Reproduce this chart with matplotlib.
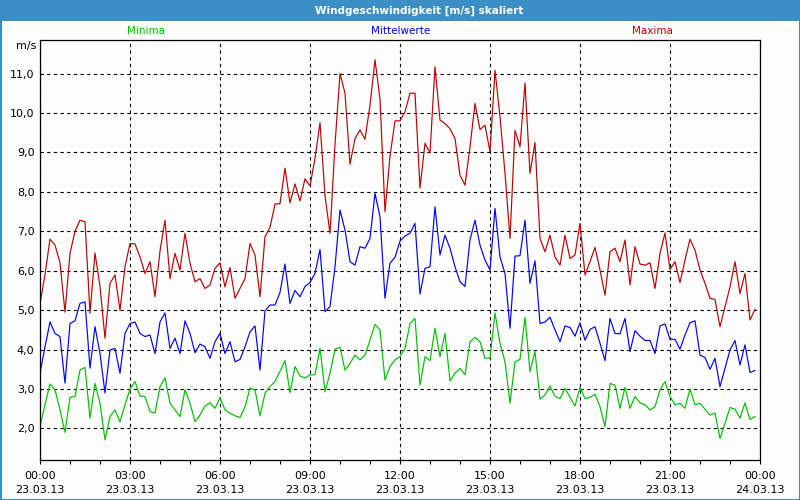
import numpy as np
import matplotlib
matplotlib.use("Agg")
import matplotlib.pyplot as plt
from matplotlib.patches import Rectangle
from matplotlib.ticker import MultipleLocator, FixedLocator, FuncFormatter

plt.rcParams['font.family'] = ['DejaVu Sans']

title = "Windgeschwindigkeit [m/s] skaliert"
series_names = ["Minima", "Mittelwerte", "Maxima"]
unit = "m/s"

# 10-minute values, 23.03.13 00:00 .. 23:50
maxima = [5.17, 5.9, 6.8, 6.65, 6.2, 4.95, 6.44, 7.0, 7.28, 7.24, 4.92, 6.45, 5.6, 4.29, 5.68, 5.89, 5.0, 6.1, 6.69, 6.68, 6.35, 5.93, 6.23, 5.34, 6.5,
          7.28, 5.8, 6.44, 6.02, 6.95, 6.19, 5.72, 5.8, 5.55, 5.64, 6.06, 6.2, 5.59, 6.08, 5.3, 5.55, 5.8, 6.69, 6.4, 5.34, 6.86, 7.1, 7.69, 7.7,
          8.6, 7.72, 8.2, 7.77, 8.33, 8.15, 8.85, 9.75, 7.9, 6.95, 9.2, 11.0, 10.5, 8.7, 9.35, 9.57, 9.33, 10.2, 11.35, 10.35, 7.5, 8.9, 9.8, 9.8,
          10.03, 10.5, 10.5, 8.1, 9.23, 8.99, 11.17, 9.82, 9.73, 9.6, 9.35, 8.42, 8.17, 9.14, 10.24, 9.58, 9.69, 9.02, 11.08, 9.9, 8.47, 6.82, 9.56, 9.14,
          10.76, 8.47, 9.25, 6.82, 6.48, 6.9, 6.35, 6.14, 6.9, 6.31, 6.4, 7.2, 5.89, 6.23, 6.59, 6.02, 5.38, 6.48, 6.57, 6.23, 6.78, 5.64, 6.61, 6.17,
          6.14, 6.2, 5.55, 6.44, 6.96, 6.03, 6.23, 5.7, 6.27, 6.8, 6.52, 6.02, 5.68, 5.3, 5.27, 4.58, 5.09, 5.59, 6.23, 5.42, 5.93, 4.75, 5.02]

mittel = [3.4, 4.07, 4.7, 4.41, 4.33, 3.15, 4.66, 4.73, 5.17, 5.21, 3.53, 4.58, 3.9, 2.9, 3.99, 4.03, 3.4, 4.41, 4.66, 4.7, 4.41, 4.33, 4.37, 3.9, 4.7,
          4.93, 4.03, 4.29, 3.9, 4.73, 4.41, 3.92, 4.14, 4.07, 3.78, 4.2, 4.41, 3.9, 4.2, 3.69, 3.75, 4.07, 4.45, 4.6, 3.48, 4.98, 5.13, 5.13, 5.45,
          6.17, 5.17, 5.5, 5.34, 5.6, 5.7, 5.93, 6.54, 4.96, 5.09, 6.1, 7.54, 7.03, 6.23, 6.14, 6.61, 6.57, 6.82, 7.96, 7.37, 5.3, 6.19, 6.34, 6.75,
          6.88, 6.95, 7.2, 5.41, 6.06, 6.1, 7.62, 6.4, 6.9, 6.57, 6.1, 5.72, 5.6, 6.78, 7.28, 6.65, 6.27, 6.02, 7.58, 6.35, 5.93, 4.54, 6.37, 6.38,
          7.28, 5.68, 6.25, 4.66, 4.7, 4.82, 4.5, 4.2, 4.6, 4.56, 4.34, 4.68, 4.24, 4.51, 4.58, 4.16, 3.72, 4.79, 4.41, 4.4, 4.79, 3.95, 4.48, 4.34,
          4.23, 4.23, 3.9, 4.6, 4.65, 4.26, 4.26, 4.01, 4.37, 4.68, 4.73, 3.86, 3.8, 3.5, 3.78, 3.06, 3.53, 3.99, 4.23, 3.61, 4.12, 3.42, 3.47]

minima = [2.05, 2.6, 3.13, 2.98, 2.47, 1.9, 2.79, 2.81, 3.48, 3.55, 2.26, 3.14, 2.64, 1.71, 2.3, 2.47, 2.17, 2.6, 3.0, 3.19, 2.82, 2.81, 2.43, 2.39, 3.06,
          3.28, 2.64, 2.47, 2.3, 2.98, 2.64, 2.17, 2.34, 2.57, 2.65, 2.51, 2.78, 2.47, 2.39, 2.32, 2.28, 2.55, 3.02, 2.98, 2.32, 2.89, 3.06, 3.19, 3.45,
          3.72, 2.91, 3.57, 3.33, 3.28, 3.36, 3.36, 4.03, 2.93, 3.4, 4.01, 4.06, 3.48, 3.65, 3.86, 3.74, 3.86, 4.24, 4.64, 4.5, 3.23, 3.57, 3.74, 3.82,
          4.03, 4.66, 4.79, 3.1, 3.82, 3.72, 4.54, 3.82, 4.41, 3.21, 3.4, 3.52, 3.36, 4.2, 4.31, 4.2, 3.78, 3.78, 4.93, 4.16, 3.69, 2.64, 3.69, 3.75,
          4.82, 3.44, 3.95, 2.74, 2.85, 3.08, 2.81, 2.76, 3.02, 2.79, 2.57, 3.04, 2.76, 2.79, 2.87, 2.55, 2.05, 3.14, 3.1, 2.51, 3.04, 2.51, 2.81, 2.65,
          2.6, 2.47, 2.55, 2.98, 3.19, 2.81, 2.6, 2.64, 2.51, 3.0, 2.6, 2.64, 2.49, 2.34, 2.39, 1.75, 2.13, 2.53, 2.49, 2.26, 2.65, 2.23, 2.3]

hours = np.arange(len(maxima)) / 6.0
tick_hours = [0, 3, 6, 9, 12, 15, 18, 21, 24]
tick_labels = ["00:00\n23.03.13", "03:00\n23.03.13", "06:00\n23.03.13", "09:00\n23.03.13",
               "12:00\n23.03.13", "15:00\n23.03.13", "18:00\n23.03.13", "21:00\n23.03.13",
               "00:00\n24.03.13"]
y_ticks = [2, 3, 4, 5, 6, 7, 8, 9, 10, 11]

c_min = "#00C000"
c_mid = "#0000FF"
c_max = "#C00000"
bg = "#FCFDFC"
band = "#3C8FC6"

fig = plt.figure(figsize=(8, 5), dpi=100, facecolor=bg)
ax = fig.add_axes([40/800, 40/500, 720/800, 420/500])
ax.set_facecolor(bg)

ax.plot(hours, minima, color=c_min, lw=0.85)
ax.plot(hours, mittel, color=c_mid, lw=0.85)
ax.plot(hours, maxima, color=c_max, lw=0.85)

ax.set_xlim(0, 24)
ax.set_ylim(1.2, 11.85)

ax.xaxis.set_major_locator(FixedLocator(tick_hours))
ax.set_xticklabels(tick_labels, fontsize=8, linespacing=1.45)
ax.xaxis.set_minor_locator(MultipleLocator(1))
ax.tick_params(axis='x', which='both', direction='out', length=3, width=0.8, color='black', pad=5)

ax.yaxis.set_major_locator(FixedLocator(y_ticks))
ax.yaxis.set_major_formatter(FuncFormatter(lambda v, p: f"{v:.1f}".replace('.', ',')))
ax.tick_params(axis='y', which='both', length=0, labelsize=8, pad=4)

ax.grid(True, which='major', color='black', linestyle=(0, (3, 3)), lw=0.8)
for s in ax.spines.values():
    s.set_color('black')
    s.set_linewidth(0.9)

# unit label
fig.text(36/800, 1 - 46/500, unit, ha='right', va='center', fontsize=8)

# legend-like series names
fig.text(146/800, 1 - 31/500, series_names[0], color=c_min, ha='center', va='center', fontsize=7.5)
fig.text(401/800, 1 - 31/500, series_names[1], color=c_mid, ha='center', va='center', fontsize=7.5)
fig.text(652/800, 1 - 31/500, series_names[2], color=c_max, ha='center', va='center', fontsize=7.5)

# title band and frame
fig.patches.append(Rectangle((0, 1 - 21/500), 1, 21/500, transform=fig.transFigure,
                             facecolor=band, edgecolor='none', zorder=0))
fig.patches.append(Rectangle((0.5/800, 0.5/500), 799/800, 499/500, transform=fig.transFigure,
                             facecolor='none', edgecolor=band, lw=1.5, zorder=5))
fig.text(419/800, 1 - 10.5/500, title, color='white', ha='center', va='center',
         fontsize=7.5, fontweight='bold')

fig.savefig("out.png", dpi=100, facecolor=bg)
